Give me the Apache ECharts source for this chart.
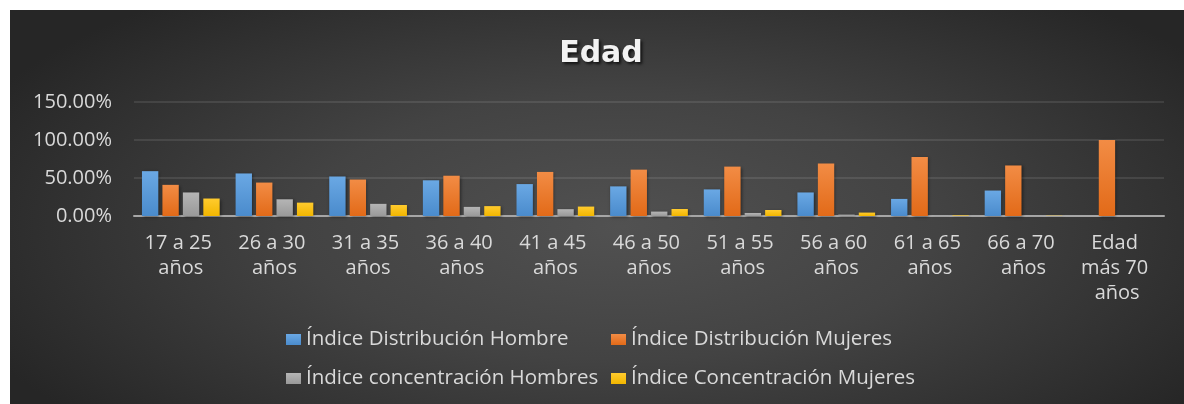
<!DOCTYPE html>
<html>
<head>
<meta charset="utf-8">
<script src="https://cdn.jsdelivr.net/npm/echarts@6/dist/echarts.min.js"></script>
<style>
  html, body { margin: 0; padding: 0; background: #ffffff; overflow: hidden; }
  /* fondo oscuro tipo Excel */
  #bg {
    position: absolute; left: 10px; top: 10px; right: 0; bottom: 0;
    background: radial-gradient(ellipse 60% 75% at 52% 55%, #515151 0%, #434343 45%, #2e2e2e 85%, #262626 100%);
  }
  #chart { position: absolute; left: 0; top: 0; width: 1184px; height: 404px; }
</style>
</head>
<body>
<div id="bg"></div>
<div id="chart"></div>
<script>
// categorias
const categories = ['17 a 25 años', '26 a 30 años', '31 a 35 años', '36 a 40 años', '41 a 45 años',
  '46 a 50 años', '51 a 55 años', '56 a 60 años', '61 a 65 años', '66 a 70 años', 'Edad más 70 años']
// valores en %
const distHombre = [59, 56, 52, 47, 42, 39, 35, 31, 22.5, 33.5, 0]
const distMujeres = [41, 44, 48, 53, 58, 61, 65, 69, 77.5, 66.5, 100]
const concHombres = [31, 22, 16, 12, 9, 5.8, 4, 1.8, 0.3, 0.2, 0]
const concMujeres = [23, 17.6, 14.5, 13, 12.4, 9.2, 7.9, 4.5, 0.8, 0.4, 0]
// marcas del eje y
const yTicks = [0, 50, 100, 150]

const textColor = '#d9d9d9'
const font = 'Open Sans'

function grad(top, bottom) {
  return new echarts.graphic.LinearGradient(0, 0, 0, 1, [
    { offset: 0, color: top },
    { offset: 1, color: bottom }
  ])
}

function bar(name, data, top, bottom) {
  return {
    name: name,
    type: 'bar',
    data: data,
    barGap: '25%',
    barCategoryGap: '17%',
    itemStyle: {
      color: grad(top, bottom),
      shadowColor: 'rgba(0,0,0,0.45)',
      shadowBlur: 3,
      shadowOffsetX: 1,
      shadowOffsetY: 1
    }
  }
}

function legendAt(name, left, top) {
  return {
    data: [name],
    left: left,
    top: top,
    padding: 0,
    icon: 'rect',
    itemWidth: 15,
    itemHeight: 11,
    itemGap: 6,
    textStyle: { color: textColor, fontSize: 20.5, fontFamily: font }
  }
}

const names = ['Índice Distribución Hombre', 'Índice Distribución Mujeres',
  'Índice concentración Hombres', 'Índice Concentración Mujeres']

const option = {
  animation: false,
  title: {
    text: 'Edad',
    left: 601,
    textAlign: 'center',
    top: 39,
    padding: 0,
    textStyle: {
      color: '#f2f2f2',
      fontSize: 30,
      fontWeight: 'bold',
      fontFamily: 'DejaVu Sans',
      textShadowColor: 'rgba(0,0,0,0.7)',
      textShadowBlur: 3,
      textShadowOffsetX: 2,
      textShadowOffsetY: 2
    }
  },
  legend: [
    legendAt(names[0], 286, 329),
    legendAt(names[1], 611, 329),
    legendAt(names[2], 286, 368),
    legendAt(names[3], 611, 368)
  ],
  grid: { left: 134, right: 20, top: 102, bottom: 188 },
  xAxis: {
    type: 'category',
    data: categories,
    axisTick: { show: false },
    axisLine: { lineStyle: { color: '#a6a6a6', width: 2 } },
    axisLabel: {
      color: textColor,
      fontSize: 20,
      fontFamily: font,
      lineHeight: 25,
      margin: 15,
      interval: 0,
      width: 86,
      overflow: 'break'
    }
  },
  yAxis: {
    type: 'value',
    min: yTicks[0],
    max: yTicks[yTicks.length - 1],
    interval: yTicks[1] - yTicks[0],
    axisLine: { show: false },
    axisTick: { show: false },
    splitLine: { lineStyle: { color: 'rgba(255,255,255,0.13)', width: 1.5 } },
    axisLabel: {
      color: textColor,
      fontSize: 20,
      fontFamily: font,
      margin: 22,
      formatter: v => v.toFixed(2) + '%'
    }
  },
  series: [
    bar(names[0], distHombre, '#6aa8e4', '#4a8bcc'),
    bar(names[1], distMujeres, '#f28c45', '#e26a18'),
    bar(names[2], concHombres, '#b5b5b5', '#999999'),
    bar(names[3], concMujeres, '#ffcb2e', '#f2b600')
  ]
}

const myChart = echarts.init(document.getElementById('chart'))
myChart.setOption(option)
</script>
</body>
</html>
